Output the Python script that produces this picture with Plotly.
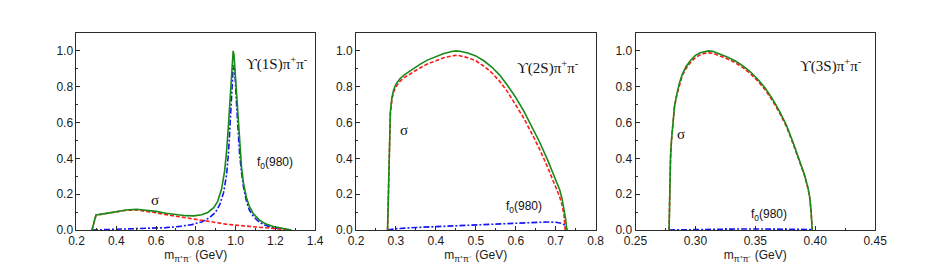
import plotly.graph_objects as go

# ---------------- data ----------------
# Panel 1: Upsilon(1S) pi+ pi-
p1_total_x = [0.278, 0.298, 0.35, 0.40, 0.45, 0.50, 0.55, 0.60, 0.65, 0.70, 0.75, 0.79, 0.83, 0.86, 0.89, 0.91, 0.93, 0.945, 0.955, 0.965, 0.975, 0.982, 0.988, 0.992, 0.998, 1.005, 1.012, 1.02, 1.03, 1.04, 1.055, 1.07, 1.09, 1.12, 1.15, 1.19, 1.23, 1.28]
p1_total_y = [0.0, 0.084, 0.093, 0.103, 0.112, 0.116, 0.112, 0.104, 0.094, 0.086, 0.080, 0.079, 0.085, 0.098, 0.125, 0.16, 0.23, 0.33, 0.44, 0.60, 0.80, 0.93, 1.0, 0.98, 0.88, 0.73, 0.59, 0.46, 0.35, 0.26, 0.18, 0.13, 0.09, 0.055, 0.035, 0.02, 0.01, 0.0]
p1_sigma_x = [0.278, 0.298, 0.35, 0.40, 0.45, 0.50, 0.55, 0.60, 0.65, 0.70, 0.75, 0.80, 0.85, 0.90, 0.95, 1.00, 1.05, 1.10, 1.15, 1.20, 1.25, 1.28]
p1_sigma_y = [0.0, 0.082, 0.092, 0.102, 0.110, 0.112, 0.106, 0.096, 0.086, 0.077, 0.066, 0.057, 0.048, 0.040, 0.033, 0.027, 0.022, 0.017, 0.012, 0.007, 0.003, 0.0]
p1_f0_x = [0.278, 0.35, 0.45, 0.55, 0.65, 0.72, 0.78, 0.83, 0.87, 0.90, 0.92, 0.94, 0.955, 0.965, 0.975, 0.982, 0.988, 0.992, 0.998, 1.005, 1.012, 1.02, 1.03, 1.04, 1.055, 1.07, 1.09, 1.12, 1.15, 1.19, 1.23, 1.28]
p1_f0_y = [0.0, 0.002, 0.004, 0.007, 0.013, 0.02, 0.03, 0.045, 0.07, 0.10, 0.14, 0.21, 0.31, 0.44, 0.66, 0.82, 0.91, 0.92, 0.85, 0.70, 0.56, 0.43, 0.32, 0.24, 0.16, 0.11, 0.075, 0.043, 0.026, 0.013, 0.006, 0.0]

# Panel 2: Upsilon(2S) pi+ pi-
p2_total_x = [0.279, 0.282, 0.286, 0.290, 0.294, 0.300, 0.310, 0.320, 0.340, 0.360, 0.380, 0.400, 0.420, 0.440, 0.450, 0.460, 0.480, 0.500, 0.520, 0.540, 0.560, 0.580, 0.600, 0.620, 0.640, 0.660, 0.680, 0.700, 0.710, 0.716, 0.721, 0.725, 0.728]
p2_total_y = [0.0, 0.35, 0.66, 0.74, 0.78, 0.815, 0.845, 0.865, 0.895, 0.925, 0.950, 0.968, 0.985, 0.997, 1.0, 0.998, 0.988, 0.972, 0.945, 0.910, 0.865, 0.805, 0.740, 0.665, 0.580, 0.490, 0.390, 0.285, 0.225, 0.175, 0.115, 0.06, 0.0]
p2_sigma_x = [0.279, 0.282, 0.286, 0.290, 0.294, 0.300, 0.310, 0.320, 0.340, 0.360, 0.380, 0.400, 0.420, 0.440, 0.450, 0.460, 0.480, 0.500, 0.520, 0.540, 0.560, 0.580, 0.600, 0.620, 0.640, 0.660, 0.680, 0.700, 0.710, 0.716, 0.721, 0.724]
p2_sigma_y = [0.0, 0.35, 0.65, 0.73, 0.77, 0.80, 0.83, 0.85, 0.88, 0.905, 0.928, 0.946, 0.962, 0.972, 0.975, 0.973, 0.962, 0.945, 0.915, 0.878, 0.830, 0.770, 0.700, 0.625, 0.540, 0.450, 0.350, 0.245, 0.185, 0.14, 0.08, 0.0]
p2_f0_x = [0.279, 0.30, 0.35, 0.40, 0.45, 0.50, 0.55, 0.60, 0.65, 0.68, 0.70, 0.715, 0.725, 0.728]
p2_f0_y = [0.0, 0.007, 0.014, 0.019, 0.024, 0.029, 0.034, 0.039, 0.044, 0.045, 0.043, 0.037, 0.025, 0.0]

# Panel 3: Upsilon(3S) pi+ pi-
p3_total_x = [0.278, 0.2785, 0.2792, 0.280, 0.2812, 0.2825, 0.2845, 0.2866, 0.289, 0.292, 0.296, 0.300, 0.304, 0.308, 0.311, 0.315, 0.320, 0.326, 0.333, 0.340, 0.346, 0.352, 0.358, 0.364, 0.370, 0.376, 0.382, 0.387, 0.391, 0.394, 0.3955, 0.3965, 0.3975]
p3_total_y = [0.0, 0.22, 0.40, 0.50, 0.61, 0.69, 0.76, 0.82, 0.87, 0.91, 0.948, 0.975, 0.99, 0.998, 1.0, 0.997, 0.985, 0.968, 0.945, 0.915, 0.882, 0.842, 0.795, 0.735, 0.665, 0.585, 0.48, 0.39, 0.31, 0.235, 0.18, 0.11, 0.0]
p3_sigma_x = [0.278, 0.2785, 0.2792, 0.280, 0.2812, 0.2825, 0.2845, 0.2866, 0.289, 0.292, 0.296, 0.300, 0.304, 0.308, 0.311, 0.315, 0.320, 0.326, 0.333, 0.340, 0.346, 0.352, 0.358, 0.364, 0.370, 0.376, 0.382, 0.387, 0.391, 0.394, 0.3955, 0.3965, 0.3975]
p3_sigma_y = [0.0, 0.22, 0.40, 0.50, 0.61, 0.685, 0.755, 0.812, 0.862, 0.90, 0.937, 0.963, 0.978, 0.987, 0.989, 0.986, 0.975, 0.958, 0.935, 0.905, 0.872, 0.832, 0.785, 0.726, 0.657, 0.577, 0.473, 0.383, 0.304, 0.23, 0.175, 0.106, 0.0]
p3_f0_x = [0.278, 0.29, 0.31, 0.33, 0.35, 0.37, 0.39, 0.396, 0.3975]
p3_f0_y = [0.0, 0.002, 0.004, 0.005, 0.006, 0.006, 0.005, 0.003, 0.0]

panel_titles = ["ϒ(1S)π<sup>+</sup>π<sup>-</sup>", "ϒ(2S)π<sup>+</sup>π<sup>-</sup>", "ϒ(3S)π<sup>+</sup>π<sup>-</sup>"]
x_ranges = [[0.2, 1.4], [0.2, 0.8], [0.25, 0.45]]
x_dticks = [0.2, 0.1, 0.05]
x_formats = [".1f", ".1f", ".2f"]
y_ticks = [0.0, 0.2, 0.4, 0.6, 0.8, 1.0]

# ---------------- figure ----------------
# page body has an 8px margin; the figure is sized so the page stays 937x278
W, H = 921, 262
OFF = 8
GREEN = "#178a17"
RED = "#ff1a1a"
BLUE = "#1515f5"
FRAME = "#2b2b2b"
TICKFONT = dict(family="Liberation Sans, Arial, sans-serif", size=12, color="#1a1a1a")

fig = go.Figure()
panels = [
    (p1_total_x, p1_total_y, p1_sigma_x, p1_sigma_y, p1_f0_x, p1_f0_y),
    (p2_total_x, p2_total_y, p2_sigma_x, p2_sigma_y, p2_f0_x, p2_f0_y),
    (p3_total_x, p3_total_y, p3_sigma_x, p3_sigma_y, p3_f0_x, p3_f0_y),
]
for i, (tx, ty, sx, sy, fx, fy) in enumerate(panels):
    xa = "x" if i == 0 else f"x{i+1}"
    ya = "y" if i == 0 else f"y{i+1}"
    fig.add_trace(go.Scatter(x=fx, y=fy, mode="lines", xaxis=xa, yaxis=ya,
                             line=dict(color=BLUE, width=1.6, dash="6px,2px,2px,2px"), showlegend=False))
    fig.add_trace(go.Scatter(x=sx, y=sy, mode="lines", xaxis=xa, yaxis=ya,
                             line=dict(color=RED, width=1.6, dash="4px,2px"), showlegend=False))
    fig.add_trace(go.Scatter(x=tx, y=ty, mode="lines", xaxis=xa, yaxis=ya,
                             line=dict(color=GREEN, width=1.6), showlegend=False))

domains_px = [(66 - OFF, 311 - OFF), (353 - OFF, 599 - OFF), (640 - OFF, 886 - OFF)]
layout = dict(
    width=W, height=H,
    margin=dict(l=0, r=0, t=33 - OFF, b=H - (230 - OFF)),
    paper_bgcolor="white", plot_bgcolor="white",
    showlegend=False,
)
for i in range(3):
    sfx = "" if i == 0 else str(i + 1)
    d0, d1 = domains_px[i]
    layout["xaxis" + sfx] = dict(
        domain=[d0 / W, d1 / W], range=x_ranges[i], anchor="y" + sfx,
        showgrid=False, zeroline=False, showline=True, linecolor=FRAME, linewidth=1, mirror=True,
        ticks="inside", ticklen=4, tickwidth=1, tickcolor=FRAME,
        tick0=x_ranges[i][0], dtick=x_dticks[i], tickformat=x_formats[i],
        minor=dict(ticks="inside", ticklen=2, tickcolor=FRAME, dtick=x_dticks[i] / 2, tick0=x_ranges[i][0]),
        tickfont=TICKFONT,
        title=dict(text="m<sub>π⁺π⁻</sub> (GeV)", font=dict(family="Liberation Sans, Arial, sans-serif", size=12, color="#1a1a1a"), standoff=3),
    )
    layout["yaxis" + sfx] = dict(
        domain=[0, 1], range=[0, 1.1], anchor="x" + sfx,
        showgrid=False, zeroline=False, showline=True, linecolor=FRAME, linewidth=1, mirror=True,
        ticks="inside", ticklen=4, tickwidth=1, tickcolor=FRAME,
        tickvals=y_ticks, tickformat=".1f",
        minor=dict(ticks="inside", ticklen=2, tickcolor=FRAME, dtick=0.1, tick0=0),
        tickfont=TICKFONT,
    )
fig.update_layout(**layout)

# annotations (positions in data coordinates of each panel)
title_pos = [(1.209, 0.927), (0.680, 0.910), (0.4134, 0.916)]
sigma_pos = [(0.597, 0.168), (0.3195, 0.558), (0.2882, 0.536)]
f0_pos = [(1.199, 0.374), (0.6195, 0.128), (0.3614, 0.084)]
for i in range(3):
    xr = "x" if i == 0 else f"x{i+1}"
    yr = "y" if i == 0 else f"y{i+1}"
    fig.add_annotation(x=title_pos[i][0], y=title_pos[i][1], xref=xr, yref=yr, text=panel_titles[i],
                       showarrow=False, font=dict(family="Liberation Serif, DejaVu Serif, serif", size=15, color="#111"))
    fig.add_annotation(x=sigma_pos[i][0], y=sigma_pos[i][1], xref=xr, yref=yr, text="σ",
                       showarrow=False, font=dict(family="Liberation Serif, Times New Roman, serif", size=15, color="#111"))
    fig.add_annotation(x=f0_pos[i][0], y=f0_pos[i][1], xref=xr, yref=yr, text="f<sub>0</sub>(980)",
                       showarrow=False, font=dict(family="Liberation Sans, Arial, sans-serif", size=12, color="#111"))

fig.write_html("out.html")
